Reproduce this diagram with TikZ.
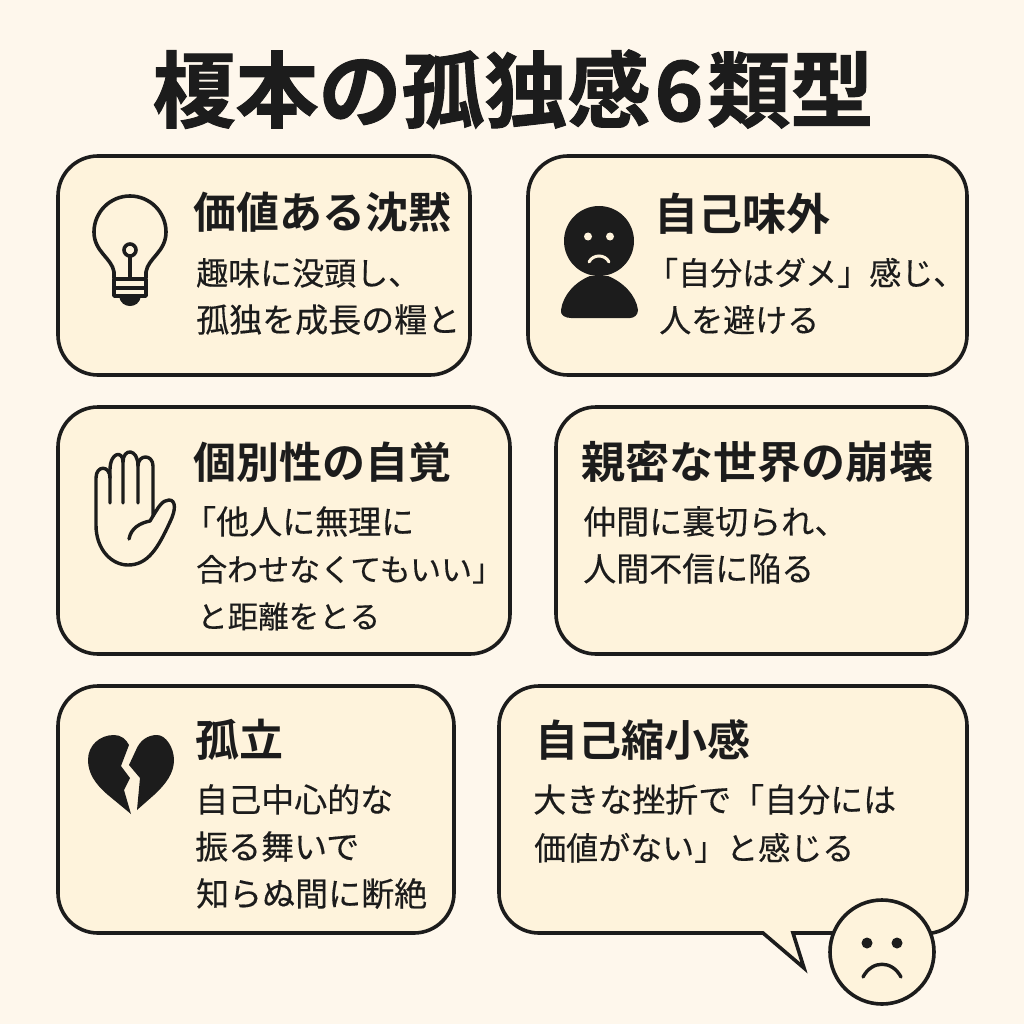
\documentclass[tikz,border=0pt]{standalone}
\usepackage{fontspec}
\newfontfamily\cjkbody[FakeBold=0.35]{Noto Sans CJK JP}
\newfontfamily\cjkhead{Noto Sans CJK JP Bold}
\newfontfamily\cjktitle[FakeBold=1.2]{Noto Sans CJK JP Bold}
\definecolor{pagebg}{HTML}{FEF7EC}
\definecolor{boxfill}{HTML}{FEF3DC}
\definecolor{ink}{HTML}{1C1C1C}
\tikzset{
  card/.style={draw=ink,fill=boxfill,line width=3.6pt,rounded corners=40pt},
  icon/.style={draw=ink,line width=3.6pt,line cap=round,line join=round},
  titletext/.style={anchor=base,inner sep=0pt,text=ink,font=\cjktitle\fontsize{83}{83}\selectfont},
  headtext/.style={anchor=base west,inner sep=0pt,text=ink,font=\cjkhead\fontsize{43}{43}\selectfont},
  widehead/.style={headtext,font=\cjkhead\fontsize{44}{44}\selectfont},
  bodytext/.style={anchor=base west,inner sep=0pt,text=ink,font=\cjkbody\fontsize{33}{33}\selectfont},
  midbody/.style={bodytext,font=\cjkbody\fontsize{32}{32}\selectfont},
  slimbody/.style={bodytext,font=\cjkbody\fontsize{31}{31}\selectfont},
  thinbody/.style={bodytext,font=\cjkbody\fontsize{30.5}{30.5}\selectfont},
}
\begin{document}
\begin{tikzpicture}[x=1pt,y=-1pt]
\useasboundingbox (0,0) rectangle (1024,1024);
\fill[pagebg] (0,0) rectangle (1024,1024);
\node[titletext] (title) at (513,121) {榎本の孤独感\hspace{4pt}6\hspace{4pt}類型};

% cards
\draw[card] (58,156) rectangle (470,375);
\draw[card] (528,156) rectangle (967,375);
\draw[card] (58,407) rectangle (510,654);
\draw[card] (556,407) rectangle (967,654);
\draw[card] (58,686) rectangle (454,933);
\draw[draw=ink,fill=boxfill,line width=3.6pt,line join=miter]
  (539,686) -- (927,686) arc[start angle=-90,end angle=0,radius=40] -- (967,890)
  .. controls (967,915) and (950,930) .. (932,933)
  -- (793,933) -- (804,968) -- (763,933) -- (539,933)
  arc[start angle=90,end angle=180,radius=40] -- (499,726)
  arc[start angle=180,end angle=270,radius=40] -- cycle;

% card 1
\node[headtext] (h1) at (193,229) {価値ある沈黙};
\node[midbody] (b1a) at (196,285) {趣味に没頭し、};
\node[bodytext] (b1b) at (196,332) {孤独を成長の糧と};
% bulb
\draw[icon] (114,278) -- (114,272) .. controls (112,258) and (94,252) .. (94,232)
  arc[start angle=180,end angle=360,radius=36]
  .. controls (166,252) and (148,258) .. (146,272) -- (146,278);
\draw[icon] (130,256) -- (130,279);
\draw[icon] (130,250) circle[radius=6];
\draw[icon] (114,279) -- (146,279) -- (146,296) -- (114,296) -- cycle;
\draw[icon] (114,288) -- (146,288);
\fill[ink] (119,296) -- (141,296) .. controls (140,303) and (135,306) .. (130,306) .. controls (125,306) and (120,303) .. (119,296) -- cycle;

% card 2
\node[widehead] (h2) at (654,230) {自己味外};
\node[midbody] (b2a) at (646,285) {「自分はダメ」感じ、};
\node[midbody] (b2b) at (659,332) {人を避ける};
% person
\fill[ink] (599,241) circle[radius=35];
\fill[ink] (571,318) .. controls (565,318) and (560,315) .. (561,310)
  .. controls (563,295) and (575,282) .. (590,276) -- (608,276)
  .. controls (623,282) and (636,295) .. (638,310)
  .. controls (638,315) and (634,318) .. (630,318) -- cycle;
\fill[boxfill] (588,236.5) circle[radius=4] (610,236.5) circle[radius=4];
\draw[boxfill,line width=3pt,line cap=round] (589,262) .. controls (593,254) and (605,254) .. (609,262);

% card 3
\node[headtext] (h3) at (193,478) {個別性の自覚};
\node[bodytext] (b3a) at (183,534) {「他人に無理に};
\node[slimbody] (b3b) at (196,581) {合わせなくてもいい」};
\node[thinbody] (b3c) at (197,628) {と距離をとる};
% hand
\draw[icon,line width=3.4pt]
  (110,503) -- (110,478) .. controls (110,465) and (96,465) .. (96,478)
  -- (96,525) .. controls (96,550) and (112,565) .. (128,565)
  .. controls (148,565) and (158,548) .. (170,522)
  .. controls (176,510) and (176,500) .. (169,500)
  .. controls (162,500) and (158,508) .. (153,516)
  -- (153,466) .. controls (153,454) and (138,454) .. (138,466) -- (138,503);
\draw[icon,line width=3.4pt] (138,466) .. controls (138,448) and (123,448) .. (123,462) -- (123,503);
\draw[icon,line width=3.4pt] (123,462) .. controls (123,450) and (110,452) .. (110,470) -- (110,478);
\draw[icon,line width=3.4pt] (129,539) .. controls (131,528) and (140,523) .. (150,521) -- (153,516);

% card 4
\node[widehead] (h4) at (581,478) {親密な世界の崩壊};
\node[bodytext] (b4a) at (583,534) {仲間に裏切られ、};
\node[bodytext] (b4b) at (583,581) {人間不信に陥る};

% card 5
\node[widehead] (h5) at (195,756) {孤立};
\node[bodytext] (b5a) at (195,812) {自己中心的な};
\node[bodytext] (b5b) at (195,859) {振る舞いで};
\node[bodytext] (b5c) at (196,906) {知らぬ間に断絶};
% broken heart
\fill[ink] (131,814) -- (108,795) .. controls (95,784) and (88,773) .. (88,760)
  .. controls (88,745) and (100,735) .. (114,735)
  .. controls (121,735) and (126,739) .. (129,745)
  -- (121,766) -- (130,778) -- (124,790) -- cycle;
\fill[ink] (137,810) -- (140,778) -- (129,765) -- (136,750)
  .. controls (140,740) and (148,735) .. (157,735)
  .. controls (166,735) and (174,748) .. (174,760)
  .. controls (174,773) and (166,784) .. (154,795) -- cycle;

% card 6
\node[headtext] (h6) at (535,756) {自己縮小感};
\node[bodytext] (b6a) at (533,812) {大きな挫折で「自分には};
\node[midbody] (b6b) at (534,860) {価値がない」と感じる};
% sad face
\draw[draw=ink,fill=boxfill,line width=3.6pt] (882,952) circle[radius=52];
\fill[ink] (867,943) circle[radius=5.5] (897,943) circle[radius=5.5];
\draw[icon,line width=3.4pt] (863,977) .. controls (872,960) and (892,960) .. (901,977);
\end{tikzpicture}
\end{document}
